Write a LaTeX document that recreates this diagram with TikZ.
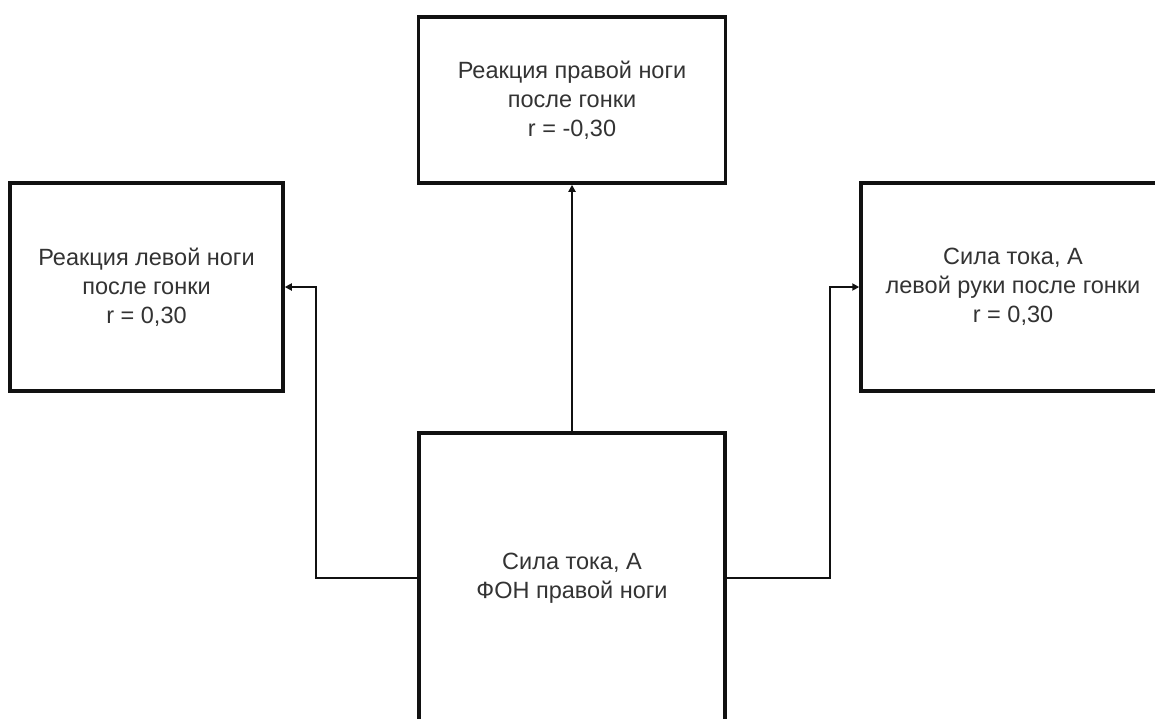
\documentclass[tikz,border=0pt]{standalone}
\usepackage{fontspec}
\setmainfont{Liberation Sans}
\usetikzlibrary{arrows.meta, positioning, calc}
\definecolor{lineaCaja}{HTML}{111111}
\definecolor{textoGris}{HTML}{333333}

\begin{document}
\begin{tikzpicture}[
        x=1pt, y=-1pt,
        caja/.style={draw=lineaCaja, fill=white, line width=3.5pt, align=center,
            inner sep=0pt, text=textoGris, font=\fontsize{23.5}{29}\selectfont},
        rel/.style={-{Triangle[length=7pt, width=7pt]}, lineaCaja, line width=2pt}
    ]
        \useasboundingbox (0,0) rectangle (1155,718);
        \clip (0,0) rectangle (1155,718);

        \node[caja, minimum width=307pt, minimum height=166pt] (reacDer) at (572,100)
            {Реакция правой ноги\\после гонки\\r = -0,30};
        \node[caja, minimum width=273pt, minimum height=208pt] (reacIzq) at (146.5,287)
            {Реакция левой ноги\\после гонки\\r = 0,30};
        \node[caja, minimum width=304pt, minimum height=208pt] (corrBrazo) at (1013,287)
            {Сила тока, А\\левой руки после гонки\\r = 0,30};
        \node[caja, minimum width=306pt, minimum height=290pt] (fon) at (572,578)
            {Сила тока, А\\ФОН правой ноги};

        \draw[rel] (fon.north) -- (reacDer.south);
        \draw[rel] (fon.west) -- ++(-101,0) |- (reacIzq.east);
        \draw[rel] (fon.east) -- ++(103,0) |- (corrBrazo.west);
    \end{tikzpicture}
\end{document}
